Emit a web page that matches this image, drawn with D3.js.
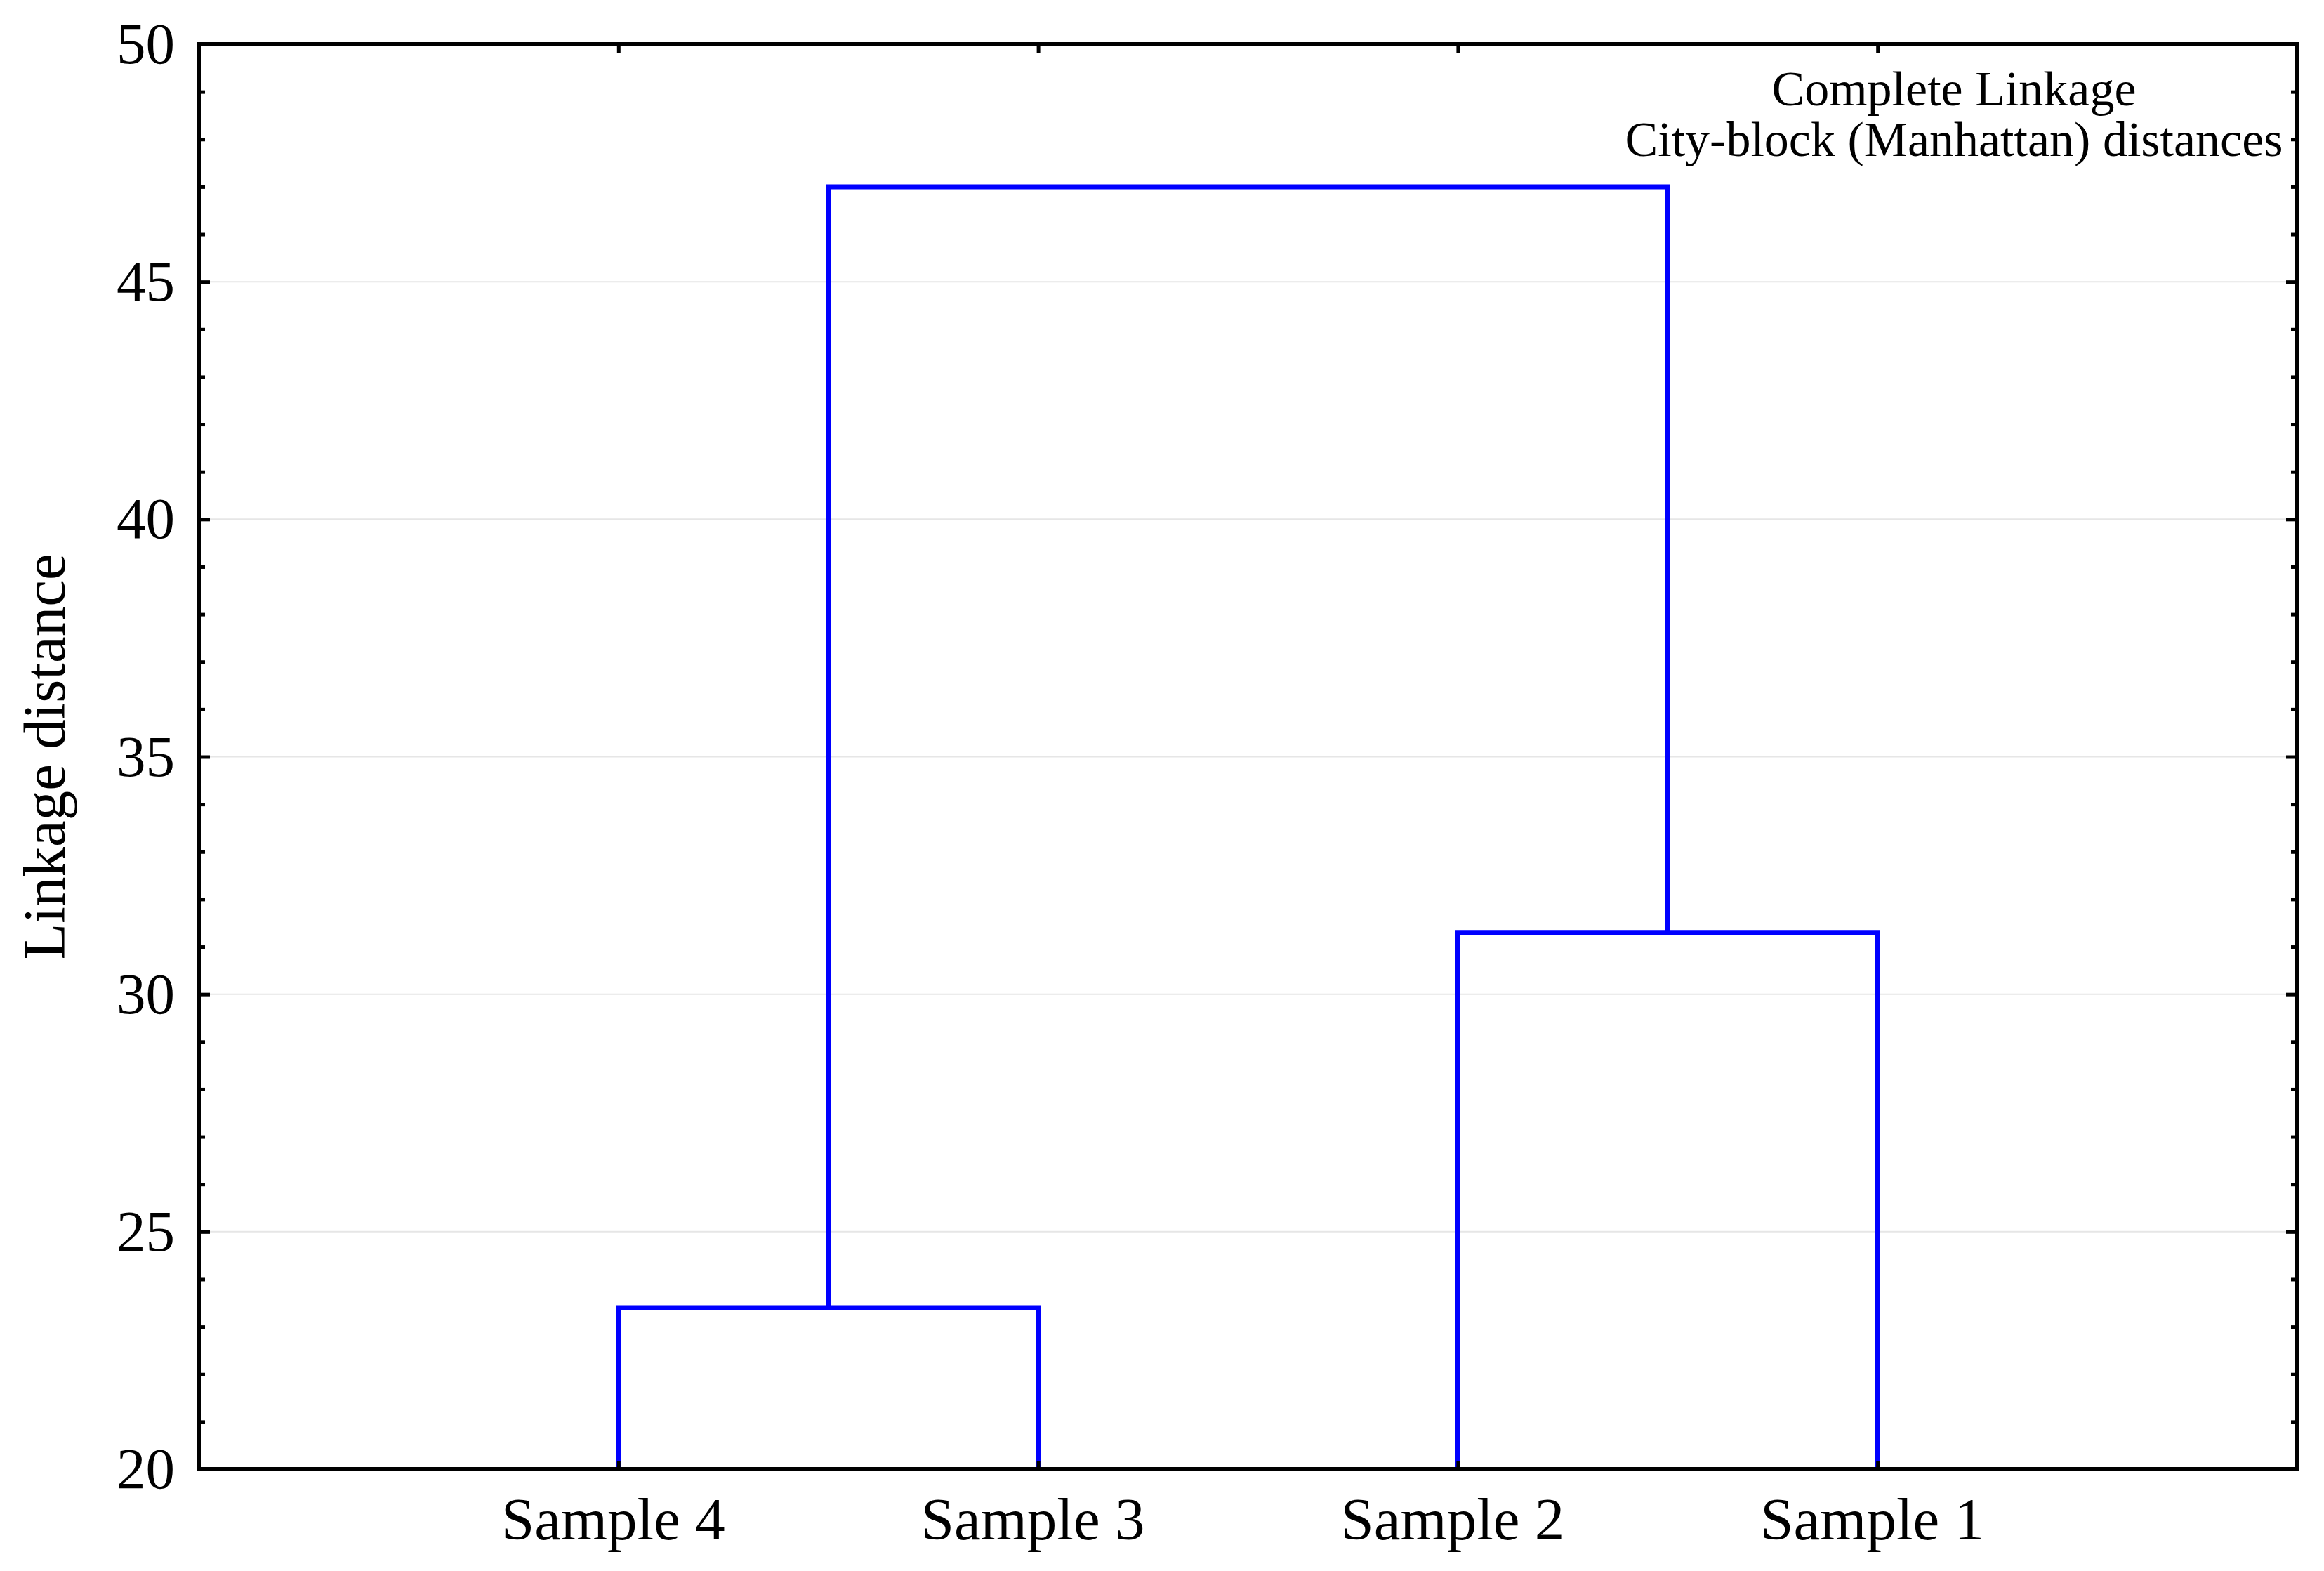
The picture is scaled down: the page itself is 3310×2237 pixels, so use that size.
<!DOCTYPE html>
<html>
<head>
<meta charset="utf-8">
<script src="https://cdn.jsdelivr.net/npm/d3@7"></script>
<style>
  html, body { margin: 0; padding: 0; background: #fff; }
  svg { display: block; }
  text { font-family: "Liberation Serif", "DejaVu Serif", serif; fill: #000; }
</style>
</head>
<body>
<svg id="chart" width="3310" height="2237"></svg>
<script>
// ---- data ----
const leaves = ["Sample 4", "Sample 3", "Sample 2", "Sample 1"];
// merges: [child A, child B, linkage distance]; children are leaf names or "c<index>"
const merges = [
  ["Sample 4", "Sample 3", 23.4],
  ["Sample 2", "Sample 1", 31.3],
  ["c0", "c1", 47.0]
];
const yTicks = [20, 25, 30, 35, 40, 45, 50];
const yMinorTicks = d3.range(20, 51, 1);
const yLabel = "Linkage distance";
const noteLines = ["Complete Linkage", "City-block (Manhattan) distances"];

(function () {
// ---- layout ----
const W = 3310, H = 2237;
const m = { left: 283, right: W - 3272, top: 63, bottom: H - 2092 };
const svg = d3.select("#chart");

const x = d3.scaleLinear().domain([0, leaves.length + 1]).range([m.left, W - m.right]);
const y = d3.scaleLinear().domain([20, 50]).range([H - m.bottom, m.top]);

const leafPos = {};
leaves.forEach((l, i) => leafPos[l] = { x: i + 1, h: 20 });

// grid
svg.append("g").selectAll("line")
  .data(yTicks.filter(t => t > 20 && t < 50))
  .join("line")
  .attr("x1", x(0)).attr("x2", x(leaves.length + 1))
  .attr("y1", d => y(d)).attr("y2", d => y(d))
  .attr("stroke", "#e6e6e6").attr("stroke-width", 2);

// dendrogram links
const nodes = Object.assign({}, leafPos);
const g = svg.append("g").attr("fill", "none").attr("stroke", "#0000ff")
  .attr("stroke-width", 7).attr("stroke-linejoin", "miter");
merges.forEach((mg, i) => {
  const a = nodes[mg[0]], b = nodes[mg[1]], h = mg[2];
  const p = d3.path();
  p.moveTo(x(a.x), y(a.h));
  p.lineTo(x(a.x), y(h));
  p.lineTo(x(b.x), y(h));
  p.lineTo(x(b.x), y(b.h));
  g.append("path").attr("d", p.toString()).attr("stroke-linecap", "butt");
  nodes["c" + i] = { x: (a.x + b.x) / 2, h: h };
});

// axes
const fontSize = 83;
const axL = svg.append("g").attr("transform", `translate(${x(0)},0)`)
  .call(d3.axisLeft(y).tickValues(yTicks).tickSize(-16).tickPadding(34).tickFormat(d3.format("d")));
axL.select(".domain").remove();
axL.selectAll(".tick line").attr("stroke", "#000").attr("stroke-width", 5);
axL.selectAll(".tick text").style("font-family", '"Liberation Serif", serif').attr("font-size", fontSize).attr("fill", "#000");

const axLm = svg.append("g").attr("transform", `translate(${x(0)},0)`)
  .call(d3.axisLeft(y).tickValues(yMinorTicks.filter(v => v % 5 !== 0)).tickSize(-9).tickFormat(""));
axLm.select(".domain").remove();
axLm.selectAll(".tick line").attr("stroke", "#000").attr("stroke-width", 5);

const axR = svg.append("g").attr("transform", `translate(${x(leaves.length + 1)},0)`)
  .call(d3.axisRight(y).tickValues(yTicks).tickSize(-16).tickFormat(""));
axR.select(".domain").remove();
axR.selectAll(".tick line").attr("stroke", "#000").attr("stroke-width", 5);
const axRm = svg.append("g").attr("transform", `translate(${x(leaves.length + 1)},0)`)
  .call(d3.axisRight(y).tickValues(yMinorTicks.filter(v => v % 5 !== 0)).tickSize(-9).tickFormat(""));
axRm.select(".domain").remove();
axRm.selectAll(".tick line").attr("stroke", "#000").attr("stroke-width", 5);

const axB = svg.append("g").attr("transform", `translate(0,${y(20)})`)
  .call(d3.axisBottom(x).tickValues(leaves.map((l, i) => i + 1)).tickSize(-12).tickPadding(40)
    .tickFormat(d => leaves[d - 1]));
axB.select(".domain").remove();
axB.selectAll(".tick line").attr("stroke", "#000").attr("stroke-width", 5);
axB.selectAll(".tick text").style("font-family", '"Liberation Serif", serif').attr("font-size", 85).attr("fill", "#000").attr("dx", -8);

const axT = svg.append("g").attr("transform", `translate(0,${y(50)})`)
  .call(d3.axisTop(x).tickValues(leaves.map((l, i) => i + 1)).tickSize(-12).tickFormat(""));
axT.select(".domain").remove();
axT.selectAll(".tick line").attr("stroke", "#000").attr("stroke-width", 5);

// frame
svg.append("rect")
  .attr("x", x(0)).attr("y", y(50))
  .attr("width", x(leaves.length + 1) - x(0)).attr("height", y(20) - y(50))
  .attr("fill", "none").attr("stroke", "#000").attr("stroke-width", 6);

// y label
svg.append("text")
  .attr("transform", `translate(92,${(y(20) + y(50)) / 2}) rotate(-90)`)
  .attr("text-anchor", "middle")
  .attr("font-size", 85)
  .text(yLabel);

// note
const note = svg.append("text").attr("text-anchor", "middle").attr("font-size", 70);
noteLines.forEach((t, i) => {
  note.append("tspan").attr("x", 2783).attr("y", 150 + i * 72).text(t);
});
})();
</script>
</body>
</html>
